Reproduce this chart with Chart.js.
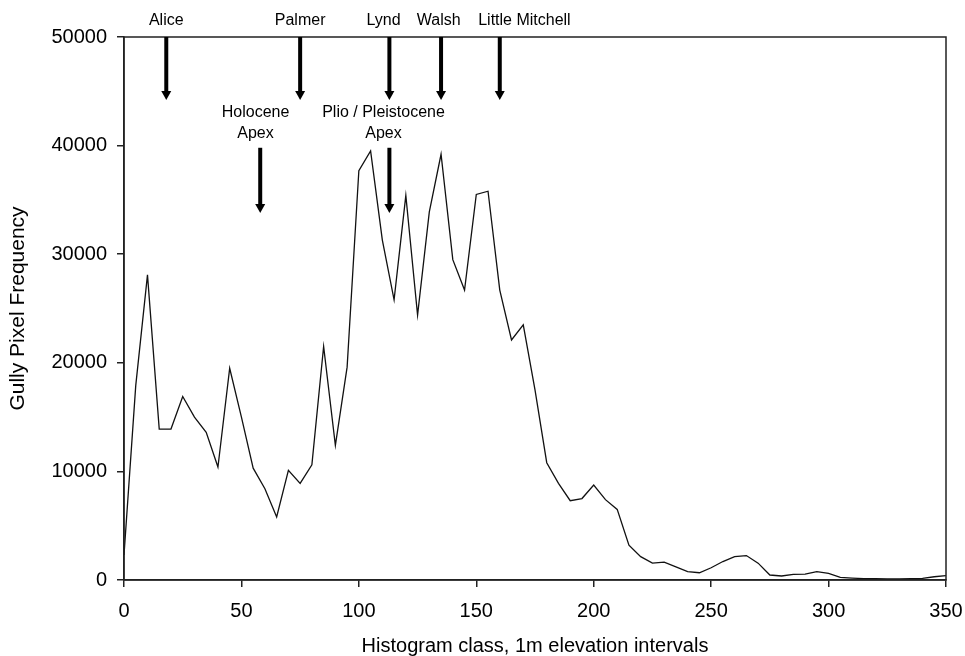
<!DOCTYPE html>
<html>
<head>
<meta charset="utf-8">
<script src="https://cdn.jsdelivr.net/npm/chart.js@4.4.1/dist/chart.umd.min.js"></script>
<style>
  html, body { margin: 0; padding: 0; background: #fff; }
  #wrap { width: 965px; height: 656px; }
</style>
</head>
<body>
<div id="wrap"><canvas id="gullyChart" width="965" height="656"></canvas></div>
<script>
// histogram classes (1 m elevation intervals, every 5th class)
const classes = [0, 5, 10, 15, 20, 25, 30, 35, 40, 45, 50, 55, 60, 65, 70, 75, 80, 85, 90, 95,
  100, 105, 110, 115, 120, 125, 130, 135, 140, 145, 150, 155, 160, 165, 170, 175, 180, 185, 190, 195,
  200, 205, 210, 215, 220, 225, 230, 235, 240, 245, 250, 255, 260, 265, 270, 275, 280, 285, 290, 295,
  300, 305, 310, 315, 320, 325, 330, 335, 340, 345, 350];

// gully pixel counts
const gullyPixels = [2300, 17900, 28100, 13900, 13900, 16900, 15000, 13600, 10400, 19500,
  15000, 10300, 8400, 5800, 10100, 8900, 10600, 21500, 12400, 19600,
  37700, 39500, 31300, 25800, 35400, 24400, 33900, 39200, 29500, 26700,
  35500, 35800, 26700, 22100, 23500, 17500, 10800, 8900, 7300, 7500,
  8750, 7400, 6500, 3200, 2150, 1550, 1650, 1200, 770, 670,
  1130, 1700, 2150, 2250, 1550, 460, 370, 520, 550, 770,
  620, 250, 180, 130, 120, 100, 100, 120, 150, 300, 400];

const yTicks = [0, 10000, 20000, 30000, 40000, 50000];
const xTicks = [0, 50, 100, 150, 200, 250, 300, 350];

// river arrows along the top of the plot
const riverNames = ['Alice', 'Palmer', 'Lynd', 'Walsh', 'Little Mitchell'];
const riverArrowX = [18, 75, 113, 135, 160];
const riverLabelX = [18, 75, 110.5, 134, 170.5];

// apex arrows inside the plot
const apexNames = [['Holocene', 'Apex'], ['Plio / Pleistocene', 'Apex']];
const apexArrowX = [58, 113];
const apexLabelX = [56, 110.5];

const FONT = "'Liberation Sans', Arial, sans-serif";

function drawArrow(ctx, x, yStart, yTip) {
    const headLen = 9, headHalf = 5;
    ctx.save();
    ctx.strokeStyle = '#000';
    ctx.fillStyle = '#000';
    ctx.lineWidth = 4;
    ctx.beginPath();
    ctx.moveTo(x, yStart);
    ctx.lineTo(x, yTip - headLen + 1);
    ctx.stroke();
    ctx.beginPath();
    ctx.moveTo(x - headHalf, yTip - headLen);
    ctx.lineTo(x + headHalf, yTip - headLen);
    ctx.lineTo(x, yTip);
    ctx.closePath();
    ctx.fill();
    ctx.restore();
}

const frameAndArrows = {
    id: 'frameAndArrows',
    afterDatasetsDraw(chart) {
        const ctx = chart.ctx;
        const area = chart.chartArea;
        const xs = chart.scales.x, ys = chart.scales.y;

        // box round the plot
        ctx.save();
        ctx.strokeStyle = '#222';
        ctx.lineWidth = 1.5;
        ctx.strokeRect(area.left, area.top, area.right - area.left, area.bottom - area.top);
        ctx.restore();

        ctx.save();
        ctx.font = '16px ' + FONT;
        ctx.fillStyle = '#000';
        ctx.textAlign = 'center';
        ctx.textBaseline = 'middle';

        // rivers
        riverNames.forEach((name, i) => {
            const px = xs.getPixelForValue(riverArrowX[i]);
            drawArrow(ctx, px, area.top, ys.getPixelForValue(44200));
            ctx.fillText(name, xs.getPixelForValue(riverLabelX[i]), area.top - 16);
        });

        // apexes
        apexNames.forEach((lines, i) => {
            const px = xs.getPixelForValue(apexArrowX[i]);
            drawArrow(ctx, px, ys.getPixelForValue(39800), ys.getPixelForValue(33800));
            const lx = xs.getPixelForValue(apexLabelX[i]);
            ctx.fillText(lines[0], lx, ys.getPixelForValue(43050));
            ctx.fillText(lines[1], lx, ys.getPixelForValue(41100));
        });
        ctx.restore();
    }
};

const ctx = document.getElementById('gullyChart').getContext('2d');
new Chart(ctx, {
    type: 'line',
    data: {
        datasets: [{
            data: classes.map((c, i) => ({ x: c, y: gullyPixels[i] })),
            borderColor: '#111',
            borderWidth: 1.3,
            pointRadius: 0,
            tension: 0,
            fill: false
        }]
    },
    options: {
        responsive: false,
        animation: false,
        layout: { padding: { left: 0, top: 37, right: 19, bottom: 0 } },
        plugins: {
            legend: { display: false },
            tooltip: { enabled: false }
        },
        scales: {
            x: {
                type: 'linear',
                min: 0,
                max: 350,
                afterBuildTicks: s => { s.ticks = xTicks.map(v => ({ value: v })); },
                afterFit: s => { s.height = 76; s.paddingLeft = 0; s.paddingRight = 0; },
                ticks: { color: '#000', font: { family: FONT, size: 20 }, padding: 12, maxRotation: 0 },
                grid: { drawOnChartArea: false, drawTicks: true, tickLength: 7, color: '#222', lineWidth: 1.5 },
                border: { display: true, color: '#222', width: 1.5 },
                title: {
                    display: true,
                    text: 'Histogram class, 1m elevation intervals',
                    color: '#000',
                    font: { family: FONT, size: 20, lineHeight: 1 },
                    padding: { top: 0, bottom: 0 }
                }
            },
            y: {
                min: 0,
                max: 50000,
                afterBuildTicks: s => { s.ticks = yTicks.map(v => ({ value: v })); },
                afterFit: s => { s.width = 124; s.paddingTop = 0; s.paddingBottom = 0; },
                ticks: { color: '#000', font: { family: FONT, size: 20 }, padding: 10, callback: v => String(v) },
                grid: { drawOnChartArea: false, drawTicks: true, tickLength: 7, color: '#222', lineWidth: 1.5 },
                border: { display: true, color: '#222', width: 1.5 },
                title: {
                    display: true,
                    text: 'Gully Pixel Frequency',
                    color: '#000',
                    font: { family: FONT, size: 21, lineHeight: 1.2 },
                    padding: { top: 6, bottom: 0 }
                }
            }
        }
    },
    plugins: [frameAndArrows]
});
</script>
</body>
</html>
